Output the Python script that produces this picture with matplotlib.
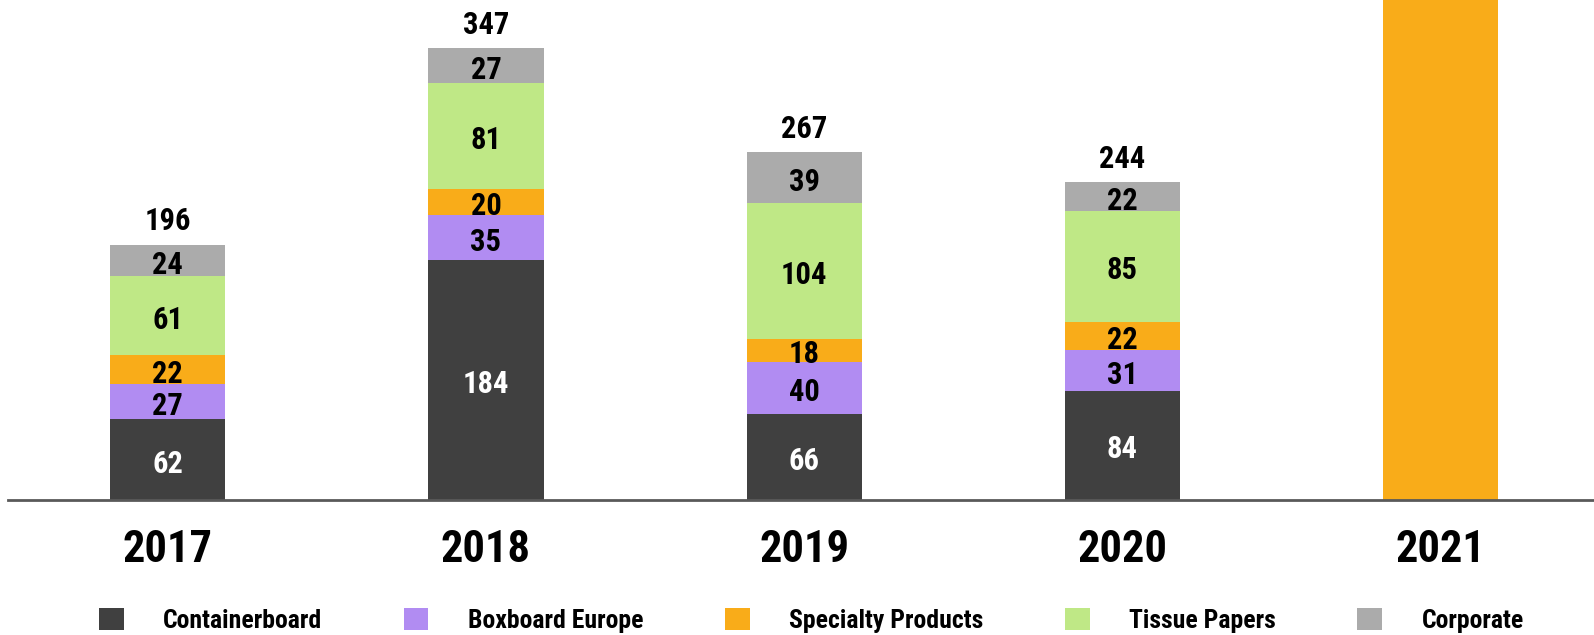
import numpy as np
import matplotlib
matplotlib.use("Agg")
from matplotlib import pyplot as plt

plt.rcParams['font.family'] = ['Roboto Condensed', 'Archivo Narrow', 'Liberation Sans', 'DejaVu Sans']
plt.rcParams['font.weight'] = 'bold'

years = ["2017", "2018", "2019", "2020", "2021"]
series = ["Containerboard", "Boxboard Europe", "Specialty Products", "Tissue Papers", "Corporate"]
containerboard = [62, 184, 66, 84, 0]
boxboard = [27, 35, 40, 31, 0]
specialty = [22, 20, 18, 22, 420]   # 2021 bar runs off the top of the chart
tissue = [61, 81, 104, 85, 0]
corporate = [24, 27, 39, 22, 0]
totals = [196, 347, 267, 244, None]

colors = ["#404040", "#B18CF2", "#F9AC19", "#BFE886", "#ABABAB"]
label_colors = ["white", "black", "black", "black", "black"]

fig = plt.figure(figsize=(15.94, 6.35), dpi=100)
ax = fig.add_axes([0.005, 0.2126, 0.995, 0.7874])

x = np.arange(len(years))
bottom = np.zeros(len(years))
handles = []
for vals, name, col, lc in zip([containerboard, boxboard, specialty, tissue, corporate],
                               series, colors, label_colors):
    vals = np.array(vals, dtype=float)
    bars = ax.bar(x, vals, 0.362, bottom=bottom, color=col, label=name)
    handles.append(bars)
    for i, v in enumerate(vals):
        if v > 0 and totals[i] is not None:
            ax.annotate(f"{int(v)}", (x[i], bottom[i] + v / 2), xytext=(0, -3),
                        textcoords="offset points", ha="center", va="center",
                        color=lc, fontsize=22, fontweight="bold")
    bottom += vals

for i, t in enumerate(totals):
    if t is not None:
        ax.annotate(f"{t}", (x[i], t), xytext=(0, 6), textcoords="offset points",
                    ha="center", va="bottom", fontsize=22, fontweight="bold")

ax.set_xlim(-0.502, 4.482)
ax.set_ylim(0, 384)
ax.set_xticks(x)
ax.set_xticklabels(years, fontsize=32, fontweight="bold")
ax.tick_params(axis="x", length=0, pad=21)
ax.set_yticks([])
for s in ["top", "right", "left"]:
    ax.spines[s].set_visible(False)
ax.spines["bottom"].set_color("#595959")
ax.spines["bottom"].set_linewidth(2)

fig.legend(handles=handles, loc="lower center", bbox_to_anchor=(0.509, -0.033), ncol=5,
           frameon=False, prop={"size": 18.5, "weight": "bold"},
           handlelength=0.97, handleheight=0.97, handletextpad=1.55, columnspacing=3.15)

fig.savefig("out.png", dpi=100)
